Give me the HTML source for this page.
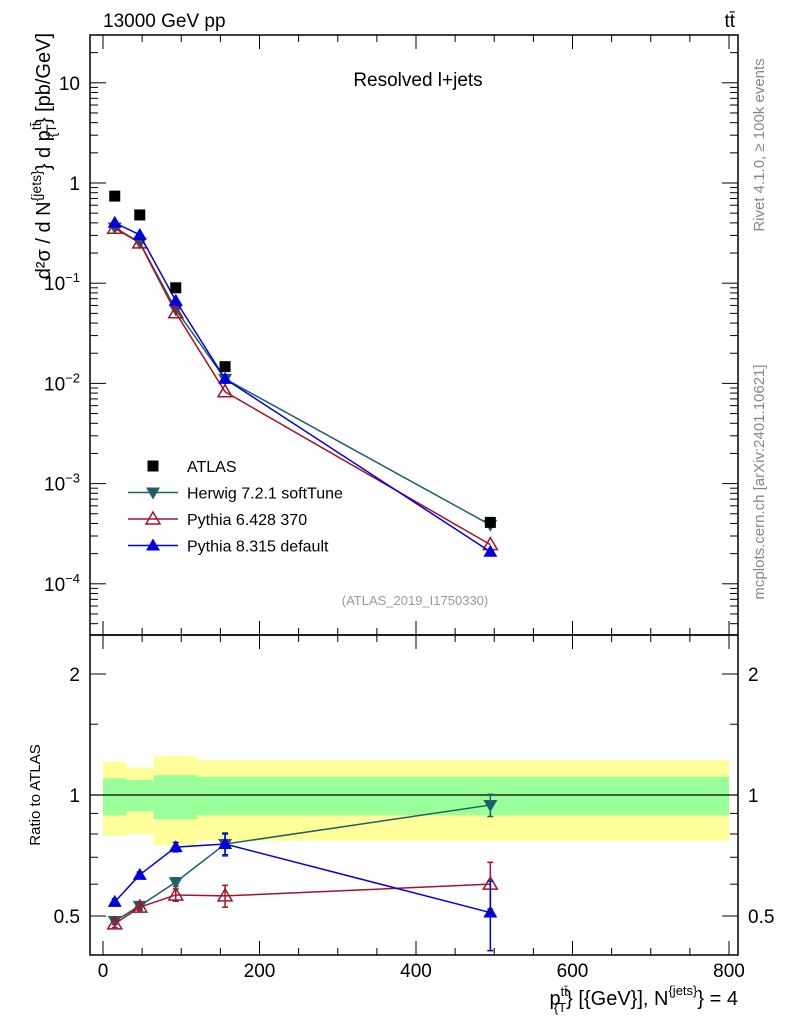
<!DOCTYPE html>
<html><head><meta charset="utf-8"><style>
body{margin:0;background:#fff}
svg text{font-family:"Liberation Sans",sans-serif}
</style></head><body>
<svg id="c" width="786" height="1024" xmlns="http://www.w3.org/2000/svg">
<text x="103" y="27" font-size="19">13000 GeV pp</text>
<text x="735" y="27" font-size="19" text-anchor="end">tt̄</text>
<text x="418" y="86" font-size="19" text-anchor="middle">Resolved l+jets</text>
<text x="415" y="605" font-size="13" fill="#999" text-anchor="middle">(ATLAS_2019_I1750330)</text>
<text transform="translate(764,145) rotate(-90)" font-size="15" fill="#888" text-anchor="middle">Rivet 4.1.0, ≥ 100k events</text>
<text transform="translate(764,482) rotate(-90)" font-size="15" fill="#888" text-anchor="middle">mcplots.cern.ch [arXiv:2401.10621]</text>
<text transform="translate(50,33) rotate(-90)" font-size="20" text-anchor="end">d²σ / d N<tspan font-size="14" dy="-9">{jets}</tspan><tspan dy="9">} d p</tspan><tspan font-size="14" dy="-9">tt̄</tspan><tspan font-size="14" dx="-15" dy="15">{T</tspan><tspan dy="-6">} [pb/GeV]</tspan></text>
<text transform="translate(40,795) rotate(-90)" font-size="15" text-anchor="middle">Ratio to ATLAS</text>
<text x="738" y="1005" font-size="20" text-anchor="end">p<tspan font-size="13" dy="-9">tt̄</tspan><tspan font-size="13" dx="-14" dy="16">{T</tspan><tspan dy="-7">} [{GeV}], N</tspan><tspan font-size="13" dy="-10">{jets}</tspan><tspan dy="10">} = 4</tspan></text>
<g id="main"></g><g id="ratio"></g>
</svg>
<script>
const xVals=[15,47,93,156,495];
const binEdges=[0,30,65,120,800];
const atlas=[0.74,0.48,0.09,0.0147,0.00041];
const atlasErr=[0.02,0.015,0.004,0.0008,0.00003];
const herwigRatio=[0.486,0.53,0.607,0.755,0.944];
const pythia6Ratio=[0.478,0.526,0.564,0.561,0.60];
const pythia8Ratio=[0.542,0.633,0.742,0.755,0.51];
const herwigErrR=[0.01,0.01,0.015,0.05,0.06];
const pythia6ErrR=[0.01,0.01,0.02,0.035,0.08];
const pythia8ErrR=[0.01,0.01,0.02,0.045,0.1];
const yellowUp=[1.21,1.17,1.25,1.22];
const yellowDn=[0.79,0.80,0.75,0.77];
const greenUp=[1.10,1.09,1.12,1.11];
const greenDn=[0.89,0.91,0.87,0.89];
const xTicks=[0,200,400,600,800];
const mainTicks=[1e-4,1e-3,1e-2,1e-1,1,10];
const mainTickLabels=["10^-4","10^-3","10^-2","10^-1","1","10"];
const ratioTicks=[0.5,1,2];

const NS="http://www.w3.org/2000/svg";
const X0=90,X1=738,MT=35,MB=635,RB=955;
const sx=v=>103+v*0.7825;
const sy=v=>183-100.2*Math.log10(v);
const sr=v=>795-121*Math.log2(v);
function el(t,a,p){const e=document.createElementNS(NS,t);for(const k in a)e.setAttribute(k,a[k]);p.appendChild(e);return e;}
const M=document.getElementById('main'),R=document.getElementById('ratio');

for(let i=0;i<4;i++){
 const b=el('rect',{x:sx(binEdges[i]),y:sr(yellowUp[i]),width:sx(binEdges[i+1])-sx(binEdges[i]),height:sr(yellowDn[i])-sr(yellowUp[i]),fill:'#ffff99'},R);
 
 
 const g=el('rect',{x:sx(binEdges[i]),y:sr(greenUp[i]),width:sx(binEdges[i+1])-sx(binEdges[i]),height:sr(greenDn[i])-sr(greenUp[i]),fill:'#99ff99'},R);
 
 
}
el('line',{x1:X0,x2:X1,y1:sr(1),y2:sr(1),stroke:'#000','stroke-width':1.2},R);

for(const [t,b,n] of [[MT,MB,'main-frame'],[MB,RB,'ratio-frame']]){
 const f=el('rect',{x:X0,y:t,width:X1-X0,height:b-t,fill:'none',stroke:'#000','stroke-width':1.5},M);
 
 
}
for(let v=0;v<=800;v+=50){
 const L=v%200===0?14:7,x=sx(v);
 for(const [t,b] of [[MT,MB],[MB,RB]]){
  el('line',{x1:x,x2:x,y1:b,y2:b-L,stroke:'#000'},M);
  el('line',{x1:x,x2:x,y1:t,y2:t+L,stroke:'#000'},M);
 }
}
xTicks.forEach(v=>{const t=el('text',{x:sx(v),y:977,'font-size':19,'text-anchor':'middle'},M);t.textContent=v;

});
for(let d=-5;d<=1;d++)for(let m=1;m<10;m++){
 const v=m*Math.pow(10,d),y=sy(v);if(y<MT||y>MB)continue;
 const L=m===1?16:8;
 el('line',{x1:X0,x2:X0+L,y1:y,y2:y,stroke:'#000'},M);
 el('line',{x1:X1,x2:X1-L,y1:y,y2:y,stroke:'#000'},M);
}
mainTicks.forEach((v,i)=>{
 const s=mainTickLabels[i],t=el('text',{x:80,y:sy(v)+7,'font-size':19,'text-anchor':'end'},M);
 if(s.includes('^')){const [b,e]=s.split('^');t.textContent=b;const ts=el('tspan',{'font-size':13,dy:-8},t);ts.textContent=e.replace('-','−');}
 else t.textContent=s;
 
 
});
[0.4,0.5,0.6,0.7,0.8,0.9,1,1.5,2].forEach(v=>{const y=sr(v),L=[0.5,1,2].includes(v)?16:8;
 el('line',{x1:X0,x2:X0+L,y1:y,y2:y,stroke:'#000'},M);el('line',{x1:X1,x2:X1-L,y1:y,y2:y,stroke:'#000'},M);});
ratioTicks.forEach(v=>{for(const [x,a] of [[80,'end'],[748,'start']]){const t=el('text',{x,y:sr(v)+7,'font-size':19,'text-anchor':a},M);t.textContent=v;

}});

function marker(type,x,y,col,p){
 if(type==='sq')return el('rect',{x:x-5.5,y:y-5.5,width:11,height:11,fill:col},p);
 if(type==='up')return el('polygon',{points:`${x},${y-7} ${x-7},${y+5} ${x+7},${y+5}`,fill:col},p);
 if(type==='upo')return el('polygon',{points:`${x},${y-7} ${x-7},${y+5} ${x+7},${y+5}`,fill:'none',stroke:col,'stroke-width':1.5},p);
 return el('polygon',{points:`${x},${y+7} ${x-7},${y-5} ${x+7},${y-5}`,fill:col},p);
}
const series=[
 {n:'herwig',r:herwigRatio,e:herwigErrR,c:'#1f5f6a',m:'dn'},
 {n:'pythia6',r:pythia6Ratio,e:pythia6ErrR,c:'#a0142a',m:'upo'},
 {n:'pythia8',r:pythia8Ratio,e:pythia8ErrR,c:'#0000dd',m:'up'}];
series.forEach(s=>{
 const mp=xVals.map((x,i)=>[sx(x),sy(atlas[i]*s.r[i])]);
 const pl=el('polyline',{points:mp.map(p=>p.join(',')).join(' '),fill:'none',stroke:s.c,'stroke-width':1.5},M);
 
 
 mp.forEach(p=>{const k=marker(s.m,p[0],p[1],s.c,M);
  
  });
 const rp=xVals.map((x,i)=>[sx(x),sr(s.r[i])]);
 const rl=el('polyline',{points:rp.map(p=>p.join(',')).join(' '),fill:'none',stroke:s.c,'stroke-width':1.5},R);
 
 
 rp.forEach((p,i)=>{
  const y1=sr(s.r[i]+s.e[i]),y2=sr(s.r[i]-s.e[i]);
  el('line',{x1:p[0],x2:p[0],y1,y2,stroke:s.c,'stroke-width':1.5},R);
  el('line',{x1:p[0]-3,x2:p[0]+3,y1,y2:y1,stroke:s.c,'stroke-width':1.5},R);
  el('line',{x1:p[0]-3,x2:p[0]+3,y1:y2,y2,stroke:s.c,'stroke-width':1.5},R);
  const k=marker(s.m,p[0],p[1],s.c,R);
  
  
 });
});
xVals.forEach((x,i)=>{
 el('line',{x1:sx(x),x2:sx(x),y1:sy(atlas[i]+atlasErr[i]),y2:sy(atlas[i]-atlasErr[i]),stroke:'#000'},M);
 const k=marker('sq',sx(x),sy(atlas[i]),'#000',M);
 
 
});
const leg=[['ATLAS','sq','#000',null],['Herwig 7.2.1 softTune','dn','#1f5f6a',1],['Pythia 6.428 370','upo','#a0142a',1],['Pythia 8.315 default','up','#0000dd',1]];
leg.forEach((l,i)=>{
 const y=466+i*26.5,g=el('g',{},M);
 
 
 if(l[3])el('line',{x1:128,x2:178,y1:y,y2:y,stroke:l[2],'stroke-width':1.5},g);
 marker(l[1],153,y,l[2],g);
 const t=el('text',{x:187,y:y+6,'font-size':16},g);t.textContent=l[0];
});
</script>
</body></html>
